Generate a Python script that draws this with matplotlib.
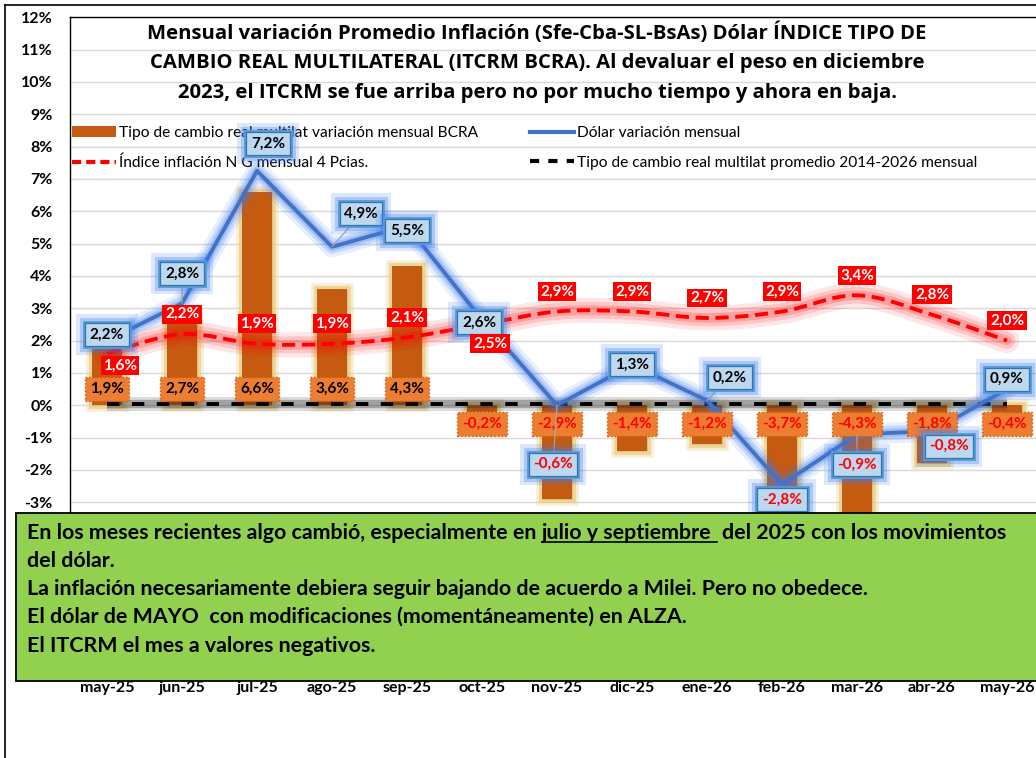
"""Inflación, dólar e ITCRM: variación mensual may-25 a may-26 (barras + líneas + nota)."""
import matplotlib
matplotlib.use("Agg")
import matplotlib.pyplot as plt
import matplotlib.patheffects as pe
from matplotlib.lines import Line2D
from matplotlib.patches import Patch, Rectangle, PathPatch
from matplotlib.path import Path
import numpy as np

W, H, DPI = 1036, 758, 100

# --------------------------------------------------------------------------- #
# datos                                                  #
# --------------------------------------------------------------------------- #
meses = ["may-25", "jun-25", "jul-25", "ago-25", "sep-25", "oct-25", "nov-25",
         "dic-25", "ene-26", "feb-26", "mar-26", "abr-26", "may-26"]
itcrm_var = [1.9, 2.7, 6.6, 3.6, 4.3, -0.2, -2.9, -1.4, -1.2, -3.7, -4.3, -1.8, -0.4]
inflacion = [1.6, 2.2, 1.9, 1.9, 2.1, 2.5, 2.9, 2.9, 2.7, 2.9, 3.4, 2.8, 2.0]
dolar_etiqueta = [2.2, 2.8, 7.2, 4.9, 5.5, 2.6, -0.6, 1.3, 0.2, -2.8, -0.9, -0.8, 0.9]
# la línea azul del original no pasa exactamente por sus etiquetas
dolar_linea = [2.0, 3.15, 7.25, 4.9, 5.55, 2.65, 0.0, 1.25, 0.15, -2.45, -0.9, -0.8, 0.5]
itcrm_promedio = 0.05
y_ticks = list(range(-3, 13))

titulo = ["Mensual variación Promedio Inflación (Sfe-Cba-SL-BsAs) Dólar ÍNDICE TIPO DE",
          "CAMBIO REAL MULTILATERAL (ITCRM BCRA). Al devaluar el peso en diciembre",
          "2023, el ITCRM se fue arriba pero no por mucho tiempo y ahora en baja."]
nota = ["del dólar.",
        "La inflación necesariamente debiera seguir bajando de acuerdo a Milei. Pero no obedece.",
        "El dólar de MAYO  con modificaciones (momentáneamente) en ALZA.",
        "El ITCRM el mes a valores negativos."]

# --------------------------------------------------------------------------- #
# estilo                                                                      #
# --------------------------------------------------------------------------- #
C_BAR = "#C55A11"
C_BAR_LBL = "#ED7D31"
C_BLUE = "#4472C4"
C_RED = "#FF0000"
C_GREEN = "#92D050"
FONT = "Lato"
LBL_FS = 11

# desplazamientos de etiquetas en píxeles (dx, dy; dy positivo = abajo)
off_infl = {0: (13, 12), 5: (8, 19)}
off_dolar = {0: (0, -6), 1: (0, -30), 2: (11, -27), 3: (29, -33), 4: (0, 5),
             5: (-3, 3), 6: (-4, 59), 7: (0, 0), 8: (23, -23), 9: (0, 15),
             10: (0, 30), 11: (17, 15), 12: (0, -10)}
con_guia = {1, 3, 6, 8, 10}

plt.rcParams.update({"font.family": [FONT, "DejaVu Sans"]})


def fx(px):
    return px / W


def fy(py):
    return 1 - py / H


def curva_suave(xs, ys):
    """Bezier tipo Catmull-Rom a través de los puntos (suavizado estilo Excel)."""
    P = np.column_stack([xs, ys]).astype(float)
    n = len(P)
    verts = [P[0]]
    codes = [Path.MOVETO]
    for i in range(n - 1):
        p0 = P[i - 1] if i > 0 else P[i]
        p1, p2 = P[i], P[i + 1]
        p3 = P[i + 2] if i + 2 < n else P[i + 1]
        verts += [p1 + (p2 - p0) / 6, p2 - (p3 - p1) / 6, p2]
        codes += [Path.CURVE4] * 3
    return Path(verts, codes)


def fmt(v):
    return f"{v:.1f}".replace(".", ",") + "%"


def etiqueta(ax, x, y, texto, dx, dy, color, bbox, z=8, guia=False):
    kw = {}
    if guia:
        kw["arrowprops"] = dict(arrowstyle="-", color="#A6A6A6", lw=0.9,
                                shrinkA=0, shrinkB=0)
    return ax.annotate(texto, xy=(x, y), xytext=(dx * 0.72, -dy * 0.72),
                       textcoords="offset points", ha="center", va="center",
                       fontsize=LBL_FS, fontweight="bold", color=color,
                       bbox=bbox, zorder=z, annotation_clip=False, **kw)


fig = plt.figure(figsize=(W / DPI, H / DPI), dpi=DPI)
fig.patch.set_facecolor("white")

y0_px, y12_px = 664.0, 17.2
ax = fig.add_axes([fx(69.5), fy(y0_px), 975 / W, (y0_px - y12_px) / H])
ax.set_xlim(-0.5, 12.5)
ax.set_ylim(-8, 12)
x = np.arange(len(meses))

# barras ITCRM con brillo dorado
ax.bar(x, itcrm_var, width=0.4, color=C_BAR, zorder=2,
       path_effects=[pe.Stroke(linewidth=9, foreground="#EED9A0", alpha=0.45),
                     pe.Stroke(linewidth=5, foreground="#E6C46A", alpha=0.55),
                     pe.Normal()])

# promedio ITCRM (negro punteado con sombra)
xp = [x[0], x[-1]]
ax.plot(xp, [itcrm_promedio] * 2, color="#333333", lw=10, alpha=0.18,
        solid_capstyle="butt", zorder=3)
ax.plot(xp, [itcrm_promedio] * 2, color="#222222", lw=6, alpha=0.3,
        solid_capstyle="butt", zorder=3)
ax.plot(xp, [itcrm_promedio] * 2, color="black", lw=2.8, dashes=(3.2, 3.2),
        zorder=3.1)

# inflación: curva suave roja con halo
path = curva_suave(x, inflacion)
for lw, a in [(18, 0.10), (12, 0.14), (7, 0.18)]:
    ax.add_patch(PathPatch(path, fill=False, ec=C_RED, lw=lw, alpha=a,
                           capstyle="round", zorder=4))
ax.add_patch(PathPatch(path, fill=False, ec=C_RED, lw=2.8,
                       linestyle=(0, (3.4, 1.7)), zorder=4.2))

# dólar: línea azul con halo
for lw, a in [(15, 0.12), (10, 0.20), (6, 0.28)]:
    ax.plot(x, dolar_linea, color="#3D7CF0", lw=lw, alpha=a,
            solid_joinstyle="round", solid_capstyle="round", zorder=5)
ax.plot(x, dolar_linea, color=C_BLUE, lw=2.8, zorder=5.2)

# etiquetas de barras (base interior)
for i, v in enumerate(itcrm_var):
    dy = -16 if v >= 0 else 19
    etiqueta(ax, i, 0, fmt(v), 0, dy, "black" if v >= 0 else C_RED,
             dict(boxstyle="square,pad=0.32", fc=C_BAR_LBL, ec="#C55A11",
                  lw=1.0, ls=":"), z=7)

# etiquetas de inflación (por encima de las del dólar)
for i, v in enumerate(inflacion):
    dx, dy = off_infl.get(i, (0, -20))
    etiqueta(ax, i, v, fmt(v), dx, dy, "white",
             dict(boxstyle="square,pad=0.16", fc=C_RED, ec="none"), z=9)

# etiquetas del dólar con halo azul (efecto sobre el recuadro)
halo = [pe.Stroke(linewidth=13, foreground="#3D7CF0", alpha=0.18),
        pe.Stroke(linewidth=8, foreground="#3D7CF0", alpha=0.3),
        pe.Stroke(linewidth=3.5, foreground="#5B9BD5", alpha=1.0),
        pe.Normal()]
for i, (v, yl) in enumerate(zip(dolar_etiqueta, dolar_linea)):
    dx, dy = off_dolar[i]
    col = "black" if v >= 0 else C_RED
    t = etiqueta(ax, i, yl, fmt(v), dx, dy, col,
                 dict(boxstyle="square,pad=0.3", fc="#BDD7EE", ec="#2E75B6", lw=0.9),
                 z=8.8, guia=i in con_guia)
    t.get_bbox_patch().set_path_effects(halo)

# ejes
ax.set_yticks(y_ticks)
ax.set_yticklabels([f"{t}%" for t in y_ticks], fontsize=11.5, fontweight="bold")
ax.set_xticks(x)
ax.set_xticklabels(meses, fontsize=11.5, fontweight="bold")
ax.tick_params(axis="y", length=0, pad=12)
ax.tick_params(axis="x", length=0, pad=12)
ax.yaxis.grid(True, color="#D9D9D9", lw=1)
ax.set_axisbelow(True)
for s in ["right", "bottom"]:
    ax.spines[s].set_visible(False)
for s in ["top", "left"]:
    ax.spines[s].set_color("black")
    ax.spines[s].set_linewidth(1.0)

# leyendas (dos columnas)
h1 = [Patch(fc=C_BAR, ec="none"),
      Line2D([], [], color=C_RED, lw=3, dashes=(2.2, 1.2))]
l1 = ["Tipo de cambio real multilat variación mensual BCRA",
      "Índice inflación N G mensual 4 Pcias."]
h2 = [Line2D([], [], color=C_BLUE, lw=3),
      Line2D([], [], color="black", lw=3, dashes=(2.2, 2.2))]
l2 = ["Dólar variación mensual",
      "Tipo de cambio real multilat promedio 2014-2026 mensual"]
leg_kw = dict(loc="upper left", frameon=False, fontsize=11.2, handlelength=2.8,
              handleheight=0.7, handletextpad=0.25, labelspacing=1.0,
              borderpad=0, borderaxespad=0, bbox_transform=fig.transFigure)
leg1 = ax.legend(h1, l1, bbox_to_anchor=(fx(72), fy(126)), **leg_kw)
ax.add_artist(leg1)
leg1.set_zorder(6)
leg2 = ax.legend(h2, l2, bbox_to_anchor=(fx(530), fy(126)), **leg_kw)
leg2.set_zorder(6)

# título
for linea, yy in zip(titulo, [33, 63, 93]):
    fig.text(fx(537), fy(yy), linea, ha="center", va="center", fontsize=14.6,
             fontweight="bold", family=["Open Sans", "DejaVu Sans"])

# marco exterior
fig.add_artist(Line2D([fx(5), fx(5)], [fy(5), fy(H)], color="black", lw=1.2,
                      transform=fig.transFigure))
fig.add_artist(Line2D([fx(5), fx(W)], [fy(5), fy(5)], color="black", lw=1.2,
                      transform=fig.transFigure))

# recuadro verde con la nota
fig.add_artist(Rectangle((fx(16), fy(681)), (1045 - 16) / W, (681 - 513) / H,
                         transform=fig.transFigure, fc=C_GREEN, ec="black",
                         lw=1.3, zorder=10))
tkw = dict(fontsize=15.4, fontweight="bold", va="baseline", ha="left", zorder=11)
renderer = fig.canvas.get_renderer()
base = [539, 567, 595, 623, 652]
t1 = fig.text(fx(27), fy(base[0]), "En los meses recientes algo cambió, especialmente en", **tkw)
tmp = fig.text(0, 0, "x x", **tkw)
w_xx = tmp.get_window_extent(renderer).width
tmp.set_text("xx")
esp = w_xx - tmp.get_window_extent(renderer).width
tmp.remove()
bb1 = t1.get_window_extent(renderer)
t2 = fig.text(fx(bb1.x1 + esp), fy(base[0]), "julio y septiembre", **tkw)
bb2 = t2.get_window_extent(renderer)
fig.add_artist(Line2D([fx(bb2.x0), fx(bb2.x1 + esp)], [fy(base[0] + 3)] * 2,
                      color="black", lw=1.2, transform=fig.transFigure, zorder=11))
fig.text(fx(bb2.x1 + 2 * esp), fy(base[0]), "del 2025 con los movimientos", **tkw)
for linea, yy in zip(nota, base[1:]):
    fig.text(fx(27), fy(yy), linea, **tkw)

fig.savefig("out.png", dpi=DPI, facecolor="white")
